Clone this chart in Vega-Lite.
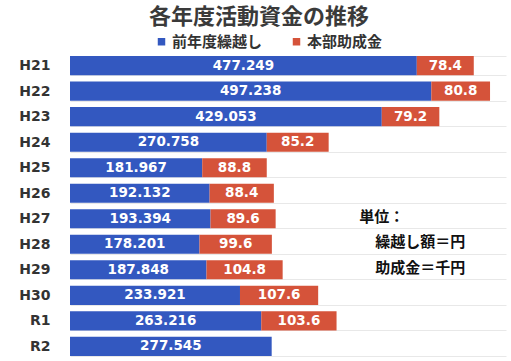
{
  "$schema": "https://vega.github.io/schema/vega-lite/v6.json",
  "width": 436,
  "height": 306,
  "autosize": {"type": "none"},
  "padding": {"left": 70, "top": 53, "right": 5, "bottom": 2},
  "background": "white",
  "title": {
    "text": "各年度活動資金の推移",
    "font": "Noto Sans CJK JP",
    "fontSize": 22,
    "fontWeight": "bold",
    "color": "#3a3a3a",
    "anchor": "middle",
    "frame": "group",
    "dx": -29,
    "offset": 5
  },
  "config": {
    "view": {"stroke": null},
    "font": "Noto Sans CJK JP"
  },
  "data": {
    "values": [
      {"year": "H21", "series": "前年度繰越し", "value": 477.249},
      {"year": "H21", "series": "本部助成金", "value": 78.4},
      {"year": "H22", "series": "前年度繰越し", "value": 497.238},
      {"year": "H22", "series": "本部助成金", "value": 80.8},
      {"year": "H23", "series": "前年度繰越し", "value": 429.053},
      {"year": "H23", "series": "本部助成金", "value": 79.2},
      {"year": "H24", "series": "前年度繰越し", "value": 270.758},
      {"year": "H24", "series": "本部助成金", "value": 85.2},
      {"year": "H25", "series": "前年度繰越し", "value": 181.967},
      {"year": "H25", "series": "本部助成金", "value": 88.8},
      {"year": "H26", "series": "前年度繰越し", "value": 192.132},
      {"year": "H26", "series": "本部助成金", "value": 88.4},
      {"year": "H27", "series": "前年度繰越し", "value": 193.394},
      {"year": "H27", "series": "本部助成金", "value": 89.6},
      {"year": "H28", "series": "前年度繰越し", "value": 178.201},
      {"year": "H28", "series": "本部助成金", "value": 99.6},
      {"year": "H29", "series": "前年度繰越し", "value": 187.848},
      {"year": "H29", "series": "本部助成金", "value": 104.8},
      {"year": "H30", "series": "前年度繰越し", "value": 233.921},
      {"year": "H30", "series": "本部助成金", "value": 107.6},
      {"year": "R1", "series": "前年度繰越し", "value": 263.216},
      {"year": "R1", "series": "本部助成金", "value": 103.6},
      {"year": "R2", "series": "前年度繰越し", "value": 277.545}
    ]
  },
  "transform": [
    {"stack": "value", "groupby": ["year"], "sort": [{"field": "series", "order": "ascending"}], "as": ["x0", "x1"]},
    {"calculate": "(datum.x0 + datum.x1) / 2", "as": "xmid"}
  ],
  "encoding": {
    "y": {
      "field": "year",
      "type": "nominal",
      "sort": ["H21", "H22", "H23", "H24", "H25", "H26", "H27", "H28", "H29", "H30", "R1", "R2"],
      "scale": {"paddingInner": 0.25, "paddingOuter": 0.12},
      "axis": {
        "title": null,
        "domain": false,
        "ticks": false,
        "tickSize": 0,
        "labelPadding": 20,
        "labelFont": "DejaVu Sans",
        "labelFontSize": 14,
        "labelFontWeight": "bold",
        "labelColor": "#333333",
        "grid": true,
        "tickBand": "extent",
        "gridColor": "#e8e8e8",
        "gridWidth": 1
      }
    }
  },
  "layer": [
    {
      "mark": {"type": "bar"},
      "encoding": {
        "x": {"field": "x0", "type": "quantitative", "scale": {"domain": [0, 600], "nice": false}, "axis": null},
        "x2": {"field": "x1"},
        "color": {
          "field": "series",
          "type": "nominal",
          "sort": ["前年度繰越し", "本部助成金"],
          "scale": {"domain": ["前年度繰越し", "本部助成金"], "range": ["#3358C0", "#D5533A"]},
          "legend": {
            "title": null,
            "orient": "none",
            "direction": "horizontal",
            "legendX": 84,
            "legendY": -19,
            "symbolType": "square",
            "symbolSize": 56,
            "symbolStrokeWidth": 0,
            "labelFont": "Noto Sans CJK JP",
            "labelFontSize": 15,
            "labelFontWeight": "bold",
            "labelColor": "#333333",
            "labelOffset": 3,
            "columnPadding": 26
          }
        }
      }
    },
    {
      "mark": {"type": "text", "color": "white", "font": "DejaVu Sans", "fontSize": 13.5, "fontWeight": "bold", "baseline": "middle"},
      "encoding": {
        "x": {"field": "xmid", "type": "quantitative"},
        "text": {"field": "value", "type": "nominal"}
      }
    },
    {
      "data": {
        "values": [
          {"year": "H27", "pos": 398, "note": "単位："},
          {"year": "H28", "pos": 420, "note": "繰越し額＝円"},
          {"year": "H29", "pos": 420, "note": "助成金＝千円"}
        ]
      },
      "mark": {"type": "text", "align": "left", "baseline": "middle", "dy": -2, "font": "Noto Sans CJK JP", "fontSize": 15, "fontWeight": "bold", "color": "#111111"},
      "encoding": {
        "x": {"field": "pos", "type": "quantitative"},
        "text": {"field": "note"}
      }
    }
  ]
}
